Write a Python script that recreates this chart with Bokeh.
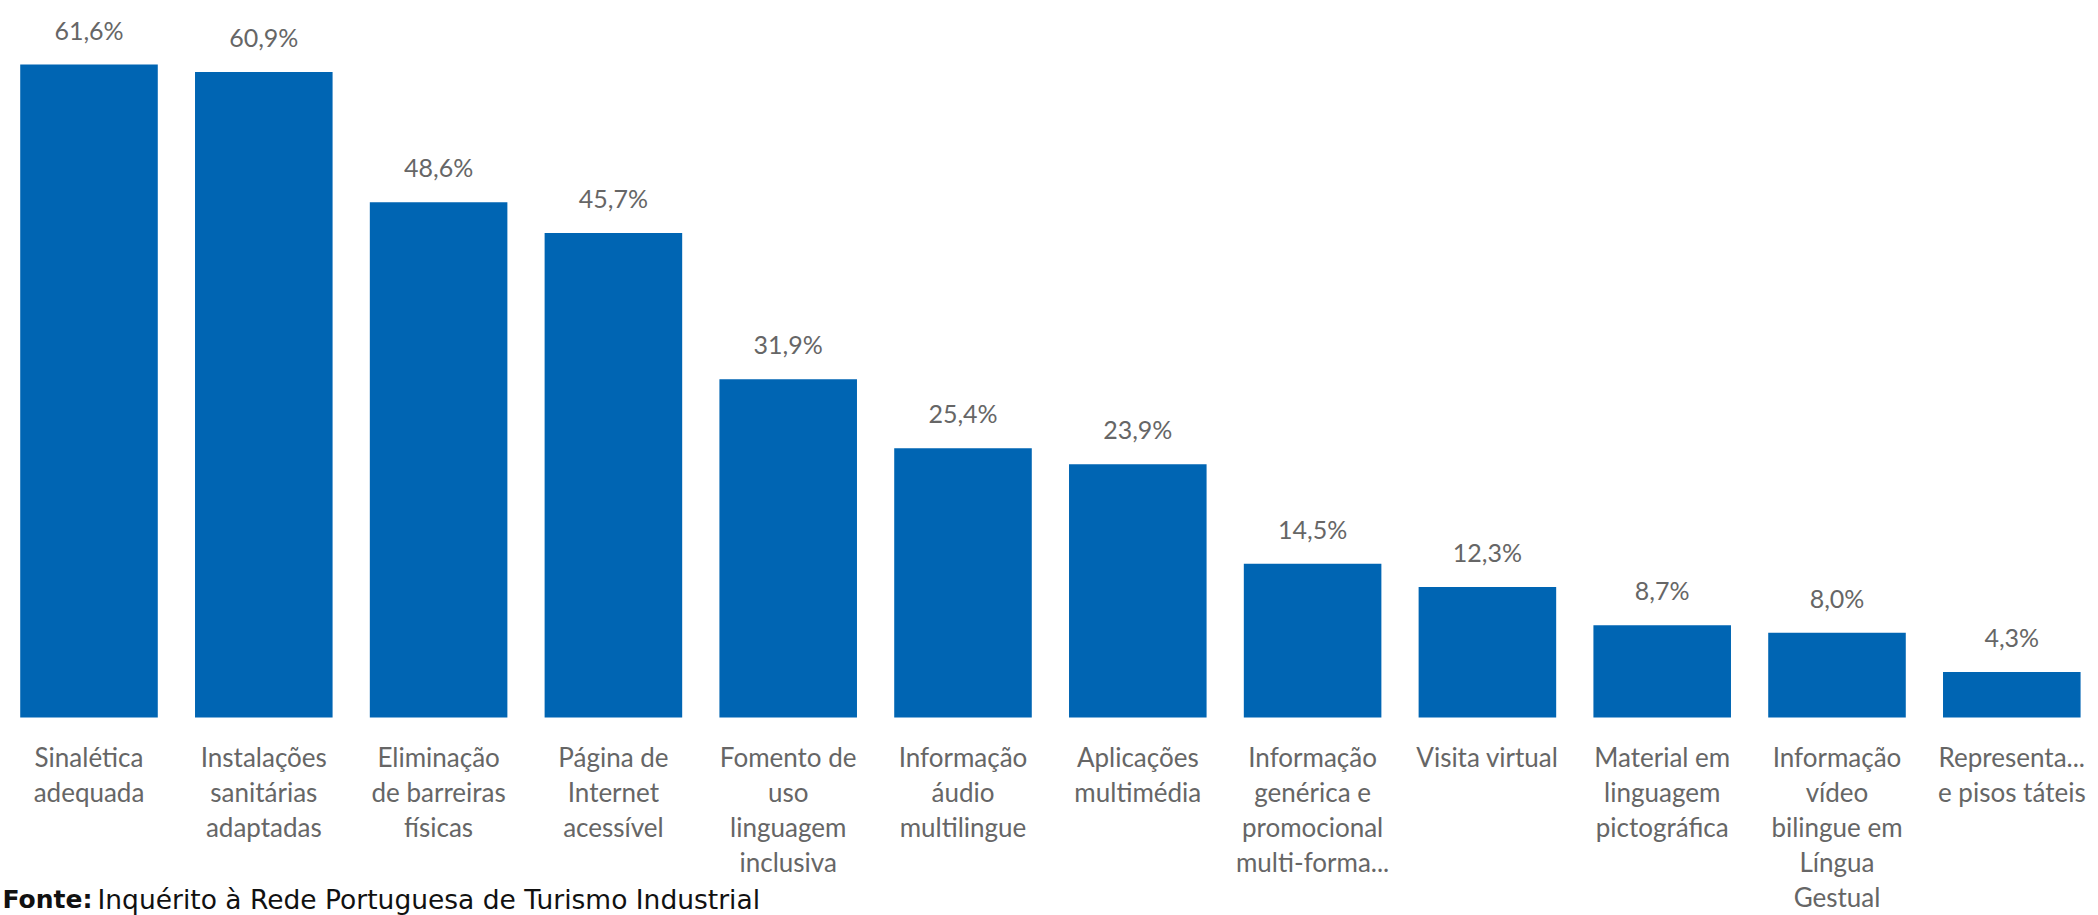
from bokeh.plotting import figure
from bokeh.models import ColumnDataSource, Range1d, Label
from bokeh.core.properties import value
from bokeh.embed import file_html
from bokeh.resources import INLINE

# ---- data ----
categories = [
    "Sinalética\nadequada",
    "Instalações\nsanitárias\nadaptadas",
    "Eliminação\nde barreiras\nfísicas",
    "Página de\nInternet\nacessível",
    "Fomento de\nuso\nlinguagem\ninclusiva",
    "Informação\náudio\nmultilingue",
    "Aplicações\nmultimédia",
    "Informação\ngenérica e\npromocional\nmulti-forma...",
    "Visita virtual",
    "Material em\nlinguagem\npictográfica",
    "Informação\nvídeo\nbilingue em\nLíngua\nGestual",
    "Representa...\ne pisos táteis",
]
values = [61.6, 60.9, 48.6, 45.7, 31.9, 25.4, 23.9, 14.5, 12.3, 8.7, 8.0, 4.3]
value_labels = [f"{v:.1f}".replace(".", ",") + "%" for v in values]
source_bold = "Fonte:"
source_text = "Inquérito à Rede Portuguesa de Turismo Industrial"

BAR = "#0065B3"
GREY = "#666666"

src = ColumnDataSource(dict(
    x=list(range(len(categories))),
    top=values,
    zero=[0] * len(values),
    cat=categories,
    lab=value_labels,
))

W, H = 2098, 915
px_per_cat = 174.8
px_per_val = 10.6
x0 = 88.5     # screen x of first bar centre
y0 = 717.0    # screen y of baseline

xs = -x0 / px_per_cat
xe = xs + W / px_per_cat
ye = y0 / px_per_val
ys = -(H - y0) / px_per_val

p = figure(width=W, height=H, output_backend="svg", toolbar_location=None,
           x_range=Range1d(xs, xe), y_range=Range1d(ys, ye),
           x_axis_location=None, y_axis_location=None,
           min_border=0, outline_line_color=None,
           background_fill_color="white", border_fill_color="white")
p.grid.visible = False

p.vbar(x="x", top="top", bottom="zero", width=0.787, source=src,
       fill_color=BAR, line_color=None)

p.text(x="x", y="top", text="lab", source=src,
       text_font=value("Lato"), text_font_size="25px", text_color=GREY,
       text_align="center", text_baseline="alphabetic", y_offset=-35)

p.text(x="x", y="zero", text="cat", source=src,
       text_font=value("Lato"), text_font_size="26px", text_color=GREY,
       text_align="center", text_baseline="top", y_offset=23,
       text_line_height=1.1)

p.add_layout(Label(x=2, y=16, x_units="screen", y_units="screen",
                   text=source_bold, text_font="DejaVu Sans",
                   text_font_size="25px", text_font_style="bold",
                   text_baseline="alphabetic", text_color="#111111"))
p.add_layout(Label(x=97, y=16, x_units="screen", y_units="screen",
                   text=source_text, text_font="DejaVu Sans",
                   text_font_size="26.5px", text_baseline="alphabetic",
                   text_color="#111111"))

open("out.html", "w").write(file_html(p, INLINE))
